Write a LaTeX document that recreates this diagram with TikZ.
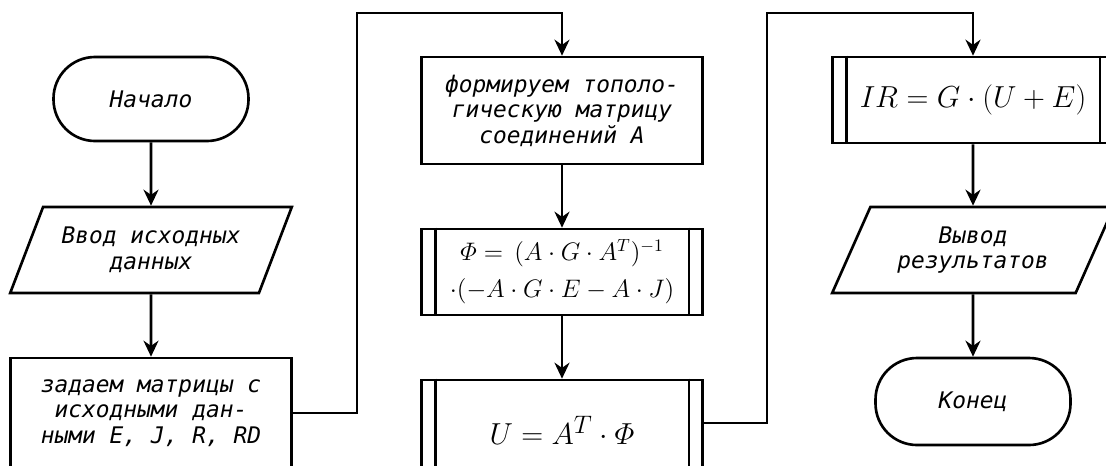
\documentclass[tikz,border=0pt]{standalone}
\usepackage{amsmath}
\usepackage{fontspec}
\setmainfont{DejaVu Sans Mono}
\usetikzlibrary{arrows.meta, shapes.geometric}

\begin{document}
\begin{tikzpicture}[
        x=0.2mm, y=-0.2mm,
        line width=1.5pt,
        font=\fontsize{13}{14.5}\selectfont\itshape,
        term/.style={draw, rectangle, rounded corners=8.3mm, minimum width=39mm, minimum height=16.8mm},
        io/.style={draw, trapezium, trapezium left angle=59, trapezium right angle=121, trapezium stretches, minimum width=56.4mm, minimum height=17.2mm, align=center, inner sep=0pt},
        box/.style={draw, rectangle, align=center, minimum width=56.2mm, inner sep=0pt},
        subbox/.style={box, font=\fontsize{14.5}{21}\selectfont},
        arrow/.style={-{Stealth[length=3.2mm, width=3mm]}}
    ]
        \useasboundingbox (0,0) rectangle (1106,465);

        % Nodes
        \node[term] (start) at (151,99) {Начало};
        \node[io] (input) at (151,250) {Ввод исходных\\данных};
        \node[box, minimum height=22mm] (data) at (151,413) {задаем матрицы с\\исходными дан-\\ными E, J, R, RD};

        \node[box, minimum height=21.4mm] (form) at (562,110.5) {формируем тополо-\\гическую матрицу\\соединений А};
        \node[subbox, minimum height=17.2mm] (phi) at (562,272) {$\varPhi = \,(A\cdot G\cdot A^T)^{-1}$\\$\cdot(-A\cdot G\cdot E-A\cdot J)$};
        \node[box, minimum height=20mm, font=\fontsize{19}{22}\selectfont] (U) at (562,430) {$U = A^T\cdot\varPhi$};

        \node[subbox, minimum height=17.2mm, font=\fontsize{16}{21}\selectfont] (ir) at (973,100) {$IR = G\cdot(U+E)$};
        \node[io] (output) at (973,250) {Вывод\\результатов};
        \node[term, minimum height=17.4mm] (finish) at (973,401.5) {Конец};

        % Side lines of the process blocks
        \foreach \n in {phi, U, ir} {
            \draw ([xshift=3mm]\n.north west) -- ([xshift=3mm]\n.south west);
            \draw ([xshift=-3mm]\n.north east) -- ([xshift=-3mm]\n.south east);
        }

        % Arrows
        \draw[arrow] (start) -- (input);
        \draw[arrow] (input) -- (data);
        \draw[arrow] (form) -- (phi);
        \draw[arrow] (phi) -- (U);
        \draw[arrow] (ir) -- (output);
        \draw[arrow] (output) -- (finish);

        \coordinate (j1) at (357,13);
        \coordinate (j2) at (767,13);
        \draw[arrow] (data.east) -| (j1) -| (form.north);
        \draw[arrow] ([yshift=1.4mm]U.east) -| (j2) -| (ir.north);
    \end{tikzpicture}
\end{document}
